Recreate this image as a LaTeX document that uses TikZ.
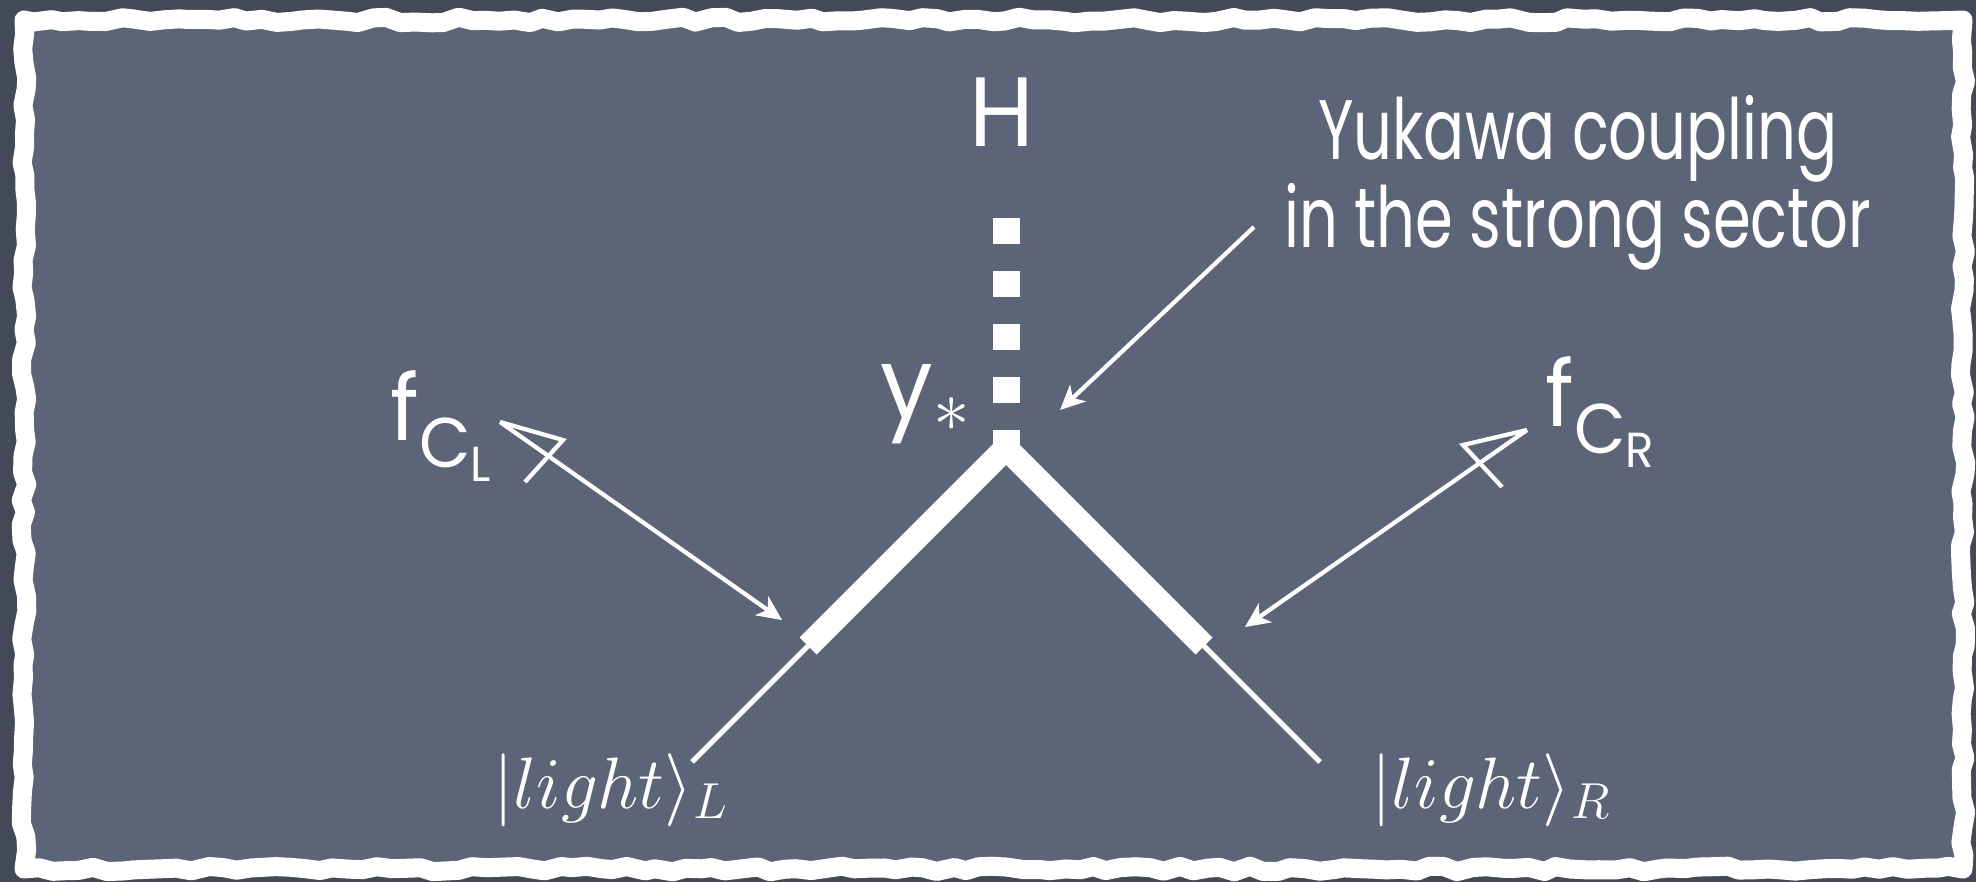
\documentclass[tikz,border=0pt]{standalone}
\usepackage{fontspec}
\setmainfont{Poppins}[FakeStretch=0.72]
\newfontfamily\widechalk{Poppins}[FakeStretch=0.95]
\usetikzlibrary{arrows.meta,calc,decorations.pathmorphing}
\definecolor{slate}{HTML}{5C6577}
\definecolor{slatedark}{HTML}{434956}
\definecolor{chalk}{HTML}{FFFFFF}

\begin{document}
\begin{tikzpicture}[x=0.01cm,y=-0.01cm,
 font=\fontsize{24}{25}\selectfont,text=chalk,
 big/.style={font=\widechalk\fontsize{28}{28}\selectfont},
 flabel/.style={font=\widechalk\fontsize{26}{26}\selectfont,anchor=base west,inner sep=0pt},
 ket/.style={font=\fontsize{20}{20}\selectfont,anchor=base west,inner sep=0pt},
 arr/.style={-{Stealth[length=7pt,width=6.5pt,inset=2pt]},line width=1.2pt,chalk},
 headline/.style={line width=1.2pt,chalk,line join=miter},
 fermion/.style={line width=0.24cm,chalk,line join=miter},
 light/.style={line width=0.05cm,chalk},
 higgs/.style={line width=0.27cm,chalk,dash pattern=on 0.26cm off 0.27cm}]
\useasboundingbox (0,0) rectangle (1976,882);
% board and torn frame
\fill[slatedark] (0,0) rectangle (1976,882);
\fill[slate] (24,20) rectangle (1963,869);
\pgfmathsetseed{7}
\draw[chalk,line width=0.19cm,line join=round,decorate,
  decoration={random steps,segment length=4pt,amplitude=0.8pt}] (24,20) rectangle (1963,869);

% vertex
\coordinate (vtx) at (1006,448);
\coordinate (htop) at (1006,218);
\coordinate (armL) at (808,646);
\coordinate (armR) at (1204,646);
\coordinate (legL) at (692,762);
\coordinate (legR) at (1320,762);
\draw[higgs] (htop) -- (vtx);
\draw[fermion] (armL) -- (vtx) -- (armR);
\draw[light] (armL) -- (legL);
\draw[light] (armR) -- (legR);

% labels
\node[big,anchor=base] (H) at (1002,147) {H};
\node[big,anchor=base west,inner sep=0pt] (ystar) at (880,418) {y$_\ast$};
\node[flabel] (fL) at (390,440)
  {f\raisebox{-0.3em}{\fontsize{20}{20}\selectfont C\raisebox{-0.2em}{\fontsize{14}{14}\selectfont L}}};
\node[flabel] (fR) at (1545,426)
  {f\raisebox{-0.3em}{\fontsize{20}{20}\selectfont C\raisebox{-0.2em}{\fontsize{14}{14}\selectfont R}}};
\node[ket] (ketL) at (493,808) {$|light\rangle_L$};
\node[ket] (ketR) at (1371,808) {$|light\rangle_R$};
\node[align=center,anchor=base,inner sep=0pt] (yuk) at (1578,247)
  {Yukawa coupling\\in the strong sector};

% arrows
\coordinate (tipL) at (500,422);
\coordinate (hitL) at (782,620);
\coordinate (tipR) at (1527,430);
\coordinate (hitR) at (1245,627);
\coordinate (yukfoot) at (1254,227);
\coordinate (yukhit) at (1060,410);
\draw[arr] (tipL) -- (hitL);
\draw[headline] (tipL) -- ++(63,18) -- ++(-38,42);
\draw[arr] (tipR) -- (hitR);
\draw[headline] (tipR) -- ++(-64,15) -- ++(39,42);
\draw[arr] (yukfoot) -- (yukhit);
\end{tikzpicture}
\end{document}
